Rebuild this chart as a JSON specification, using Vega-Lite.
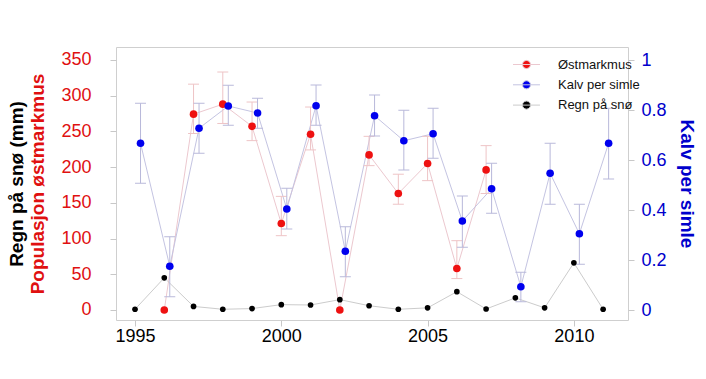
{
  "$schema": "https://vega.github.io/schema/vega-lite/v6.json",
  "width": 512,
  "height": 273,
  "autosize": {"type": "none"},
  "padding": {"left": 116, "top": 47, "right": 78, "bottom": 59},
  "background": "white",
  "config": {
    "font": "Liberation Sans",
    "view": {"stroke": "#cfcfcf"},
    "axis": {"grid": false, "domain": false, "tickColor": "#c8c8c8", "tickSize": 6, "labelFontSize": 18, "titleFontSize": 19, "titleFontWeight": "bold", "labelFont": "Liberation Sans", "titleFont": "Liberation Sans"}
  },
  "datasets": {
    "mus": [
      {"year": 1996, "series": "Østmarkmus", "value": 0, "lo": null, "hi": null},
      {"year": 1997, "series": "Østmarkmus", "value": 274, "lo": 247, "hi": 316},
      {"year": 1998, "series": "Østmarkmus", "value": 288, "lo": 261, "hi": 333},
      {"year": 1999, "series": "Østmarkmus", "value": 257, "lo": 237, "hi": 291},
      {"year": 2000, "series": "Østmarkmus", "value": 121, "lo": 104, "hi": 159},
      {"year": 2001, "series": "Østmarkmus", "value": 246, "lo": 224, "hi": 284},
      {"year": 2002, "series": "Østmarkmus", "value": 0, "lo": null, "hi": null},
      {"year": 2003, "series": "Østmarkmus", "value": 217, "lo": 202, "hi": 243},
      {"year": 2004, "series": "Østmarkmus", "value": 163, "lo": 148, "hi": 190},
      {"year": 2005, "series": "Østmarkmus", "value": 205, "lo": 181, "hi": 243},
      {"year": 2006, "series": "Østmarkmus", "value": 58, "lo": 44, "hi": 97},
      {"year": 2007, "series": "Østmarkmus", "value": 196, "lo": 163, "hi": 230}
    ],
    "kalv": [
      {"year": 1995, "series": "Kalv per simle", "value": 0.667, "lo": 0.507, "hi": 0.827},
      {"year": 1996, "series": "Kalv per simle", "value": 0.175, "lo": 0.053, "hi": 0.293},
      {"year": 1997, "series": "Kalv per simle", "value": 0.727, "lo": 0.627, "hi": 0.827},
      {"year": 1998, "series": "Kalv per simle", "value": 0.816, "lo": 0.739, "hi": 0.899},
      {"year": 1999, "series": "Kalv per simle", "value": 0.788, "lo": 0.727, "hi": 0.847},
      {"year": 2000, "series": "Kalv per simle", "value": 0.404, "lo": 0.324, "hi": 0.487},
      {"year": 2001, "series": "Kalv per simle", "value": 0.817, "lo": 0.739, "hi": 0.9},
      {"year": 2002, "series": "Kalv per simle", "value": 0.235, "lo": 0.133, "hi": 0.333},
      {"year": 2003, "series": "Kalv per simle", "value": 0.777, "lo": 0.696, "hi": 0.86},
      {"year": 2004, "series": "Kalv per simle", "value": 0.677, "lo": 0.56, "hi": 0.799},
      {"year": 2005, "series": "Kalv per simle", "value": 0.705, "lo": 0.607, "hi": 0.807},
      {"year": 2006, "series": "Kalv per simle", "value": 0.356, "lo": 0.251, "hi": 0.456},
      {"year": 2007, "series": "Kalv per simle", "value": 0.485, "lo": 0.387, "hi": 0.587},
      {"year": 2008, "series": "Kalv per simle", "value": 0.093, "lo": 0.033, "hi": 0.151},
      {"year": 2009, "series": "Kalv per simle", "value": 0.547, "lo": 0.423, "hi": 0.667},
      {"year": 2010, "series": "Kalv per simle", "value": 0.305, "lo": 0.183, "hi": 0.423},
      {"year": 2011, "series": "Kalv per simle", "value": 0.667, "lo": 0.524, "hi": 0.807}
    ],
    "regn": [
      {"year": 1995, "series": "Regn på snø", "value": 1},
      {"year": 1996, "series": "Regn på snø", "value": 45},
      {"year": 1997, "series": "Regn på snø", "value": 5},
      {"year": 1998, "series": "Regn på snø", "value": 1},
      {"year": 1999, "series": "Regn på snø", "value": 2},
      {"year": 2000, "series": "Regn på snø", "value": 7.5},
      {"year": 2001, "series": "Regn på snø", "value": 7},
      {"year": 2002, "series": "Regn på snø", "value": 14.5},
      {"year": 2003, "series": "Regn på snø", "value": 6},
      {"year": 2004, "series": "Regn på snø", "value": 1},
      {"year": 2005, "series": "Regn på snø", "value": 3},
      {"year": 2006, "series": "Regn på snø", "value": 25.6},
      {"year": 2007, "series": "Regn på snø", "value": 1.4},
      {"year": 2008, "series": "Regn på snø", "value": 17},
      {"year": 2009, "series": "Regn på snø", "value": 3},
      {"year": 2010, "series": "Regn på snø", "value": 66},
      {"year": 2011, "series": "Regn på snø", "value": 1}
    ]
  },
  "encoding": {
    "x": {"field": "year", "type": "quantitative", "scale": {"domain": [1994.35, 2011.85], "nice": false, "zero": false}, "axis": {"values": [1995, 2000, 2005, 2010], "format": "d", "title": null, "labelColor": "#000000", "labelPadding": 1}}
  },
  "layer": [
    {
      "data": {"name": "mus"},
      "mark": {"type": "line", "strokeWidth": 1},
      "encoding": {
        "y": {"field": "value", "type": "quantitative", "scale": {"domain": [-14, 368], "nice": false, "zero": false}, "axis": null},
        "stroke": {"field": "series", "type": "nominal", "scale": {"domain": ["Østmarkmus", "Kalv per simle", "Regn på snø"], "range": ["#ecc8cf", "#c4c4e2", "#cccccc"]}, "legend": {"title": null, "orient": "none", "legendX": 403, "legendY": 10, "symbolType": "M-2,0H2M-0.6,0A0.6,0.6,0,1,0,0.6,0A0.6,0.6,0,1,0,-0.6,0Z", "symbolSize": 182, "symbolStrokeWidth": 1, "labelFontSize": 13, "labelOffset": 24, "rowPadding": 5.3, "padding": 0, "labelColor": "#111111", "labelFont": "Liberation Sans"}}
      }
    },
    {
      "data": {"name": "regn"},
      "mark": {"type": "line", "strokeWidth": 1},
      "encoding": {
        "y": {"field": "value", "type": "quantitative", "scale": {"domain": [-14, 368], "nice": false, "zero": false}, "axis": {"orient": "left", "title": "Regn på snø (mm)", "labels": false, "ticks": false, "titlePadding": 90, "titleColor": "#000000"}},
        "stroke": {"field": "series", "type": "nominal", "scale": {"domain": ["Østmarkmus", "Kalv per simle", "Regn på snø"], "range": ["#ecc8cf", "#c4c4e2", "#cccccc"]}, "legend": {"title": null, "orient": "none", "legendX": 403, "legendY": 10, "symbolType": "M-2,0H2M-0.6,0A0.6,0.6,0,1,0,0.6,0A0.6,0.6,0,1,0,-0.6,0Z", "symbolSize": 182, "symbolStrokeWidth": 1, "labelFontSize": 13, "labelOffset": 24, "rowPadding": 5.3, "padding": 0, "labelColor": "#111111", "labelFont": "Liberation Sans"}}
      }
    },
    {
      "data": {"name": "kalv"},
      "mark": {"type": "line", "strokeWidth": 1, "xOffset": 5.5},
      "encoding": {
        "y": {"field": "value", "type": "quantitative", "scale": {"domain": [-0.04, 1.052], "nice": false, "zero": false}, "axis": null},
        "stroke": {"field": "series", "type": "nominal", "scale": {"domain": ["Østmarkmus", "Kalv per simle", "Regn på snø"], "range": ["#ecc8cf", "#c4c4e2", "#cccccc"]}, "legend": {"title": null, "orient": "none", "legendX": 403, "legendY": 10, "symbolType": "M-2,0H2M-0.6,0A0.6,0.6,0,1,0,0.6,0A0.6,0.6,0,1,0,-0.6,0Z", "symbolSize": 182, "symbolStrokeWidth": 1, "labelFontSize": 13, "labelOffset": 24, "rowPadding": 5.3, "padding": 0, "labelColor": "#111111", "labelFont": "Liberation Sans"}}
      }
    },
    {
      "data": {"name": "mus"},
      "transform": [{"filter": "datum.lo != null"}],
      "mark": {"type": "rule", "color": "#eec4c6", "strokeWidth": 1},
      "encoding": {
        "y": {"field": "lo", "type": "quantitative", "scale": {"domain": [-14, 368], "nice": false, "zero": false}, "axis": null},
        "y2": {"field": "hi"}
      }
    },
    {
      "data": {"name": "mus"},
      "transform": [{"filter": "datum.lo != null"}],
      "mark": {"type": "tick", "orient": "horizontal", "color": "#eec4c6", "size": 11, "thickness": 1, "opacity": 1},
      "encoding": {
        "y": {"field": "hi", "type": "quantitative", "scale": {"domain": [-14, 368], "nice": false, "zero": false}, "axis": null}
      }
    },
    {
      "data": {"name": "mus"},
      "transform": [{"filter": "datum.lo != null"}],
      "mark": {"type": "tick", "orient": "horizontal", "color": "#eec4c6", "size": 11, "thickness": 1, "opacity": 1},
      "encoding": {
        "y": {"field": "lo", "type": "quantitative", "scale": {"domain": [-14, 368], "nice": false, "zero": false}, "axis": null}
      }
    },
    {
      "data": {"name": "kalv"},
      "mark": {"type": "rule", "color": "#b8b8da", "strokeWidth": 1, "xOffset": 5.5},
      "encoding": {
        "y": {"field": "lo", "type": "quantitative", "scale": {"domain": [-0.04, 1.052], "nice": false, "zero": false}, "axis": null},
        "y2": {"field": "hi"}
      }
    },
    {
      "data": {"name": "kalv"},
      "mark": {"type": "tick", "orient": "horizontal", "color": "#b8b8da", "size": 11, "thickness": 1, "opacity": 1, "xOffset": 5.5},
      "encoding": {
        "y": {"field": "hi", "type": "quantitative", "scale": {"domain": [-0.04, 1.052], "nice": false, "zero": false}, "axis": null}
      }
    },
    {
      "data": {"name": "kalv"},
      "mark": {"type": "tick", "orient": "horizontal", "color": "#b8b8da", "size": 11, "thickness": 1, "opacity": 1, "xOffset": 5.5},
      "encoding": {
        "y": {"field": "lo", "type": "quantitative", "scale": {"domain": [-0.04, 1.052], "nice": false, "zero": false}, "axis": null}
      }
    },
    {
      "data": {"name": "mus"},
      "mark": {"type": "point", "filled": true, "opacity": 1, "size": 58, "shape": "circle"},
      "encoding": {
        "y": {"field": "value", "type": "quantitative", "scale": {"domain": [-14, 368], "nice": false, "zero": false}, "axis": {"orient": "left", "values": [0, 50, 100, 150, 200, 250, 300, 350], "labelColor": "#e01010", "titleColor": "#e01010", "title": "Populasjon østmarkmus", "labelPadding": 19, "titlePadding": 13}},
        "fill": {"field": "series", "type": "nominal", "scale": {"domain": ["Østmarkmus", "Kalv per simle", "Regn på snø"], "range": ["#ee1111", "#0000ee", "#000000"]}, "legend": {"title": null, "orient": "none", "legendX": 403, "legendY": 10, "symbolType": "M-2,0H2M-0.6,0A0.6,0.6,0,1,0,0.6,0A0.6,0.6,0,1,0,-0.6,0Z", "symbolSize": 182, "symbolStrokeWidth": 1, "labelFontSize": 13, "labelOffset": 24, "rowPadding": 5.3, "padding": 0, "labelColor": "#111111", "labelFont": "Liberation Sans"}}
      }
    },
    {
      "data": {"name": "kalv"},
      "mark": {"type": "point", "filled": true, "opacity": 1, "size": 58, "shape": "circle", "xOffset": 5.5},
      "encoding": {
        "y": {"field": "value", "type": "quantitative", "scale": {"domain": [-0.04, 1.052], "nice": false, "zero": false}, "axis": {"orient": "right", "values": [0, 0.2, 0.4, 0.6, 0.8, 1], "format": "~g", "labelColor": "#0000cc", "titleColor": "#0000cc", "title": "Kalv per simle", "labelPadding": 7, "titlePadding": 10}},
        "fill": {"field": "series", "type": "nominal", "scale": {"domain": ["Østmarkmus", "Kalv per simle", "Regn på snø"], "range": ["#ee1111", "#0000ee", "#000000"]}, "legend": {"title": null, "orient": "none", "legendX": 403, "legendY": 10, "symbolType": "M-2,0H2M-0.6,0A0.6,0.6,0,1,0,0.6,0A0.6,0.6,0,1,0,-0.6,0Z", "symbolSize": 182, "symbolStrokeWidth": 1, "labelFontSize": 13, "labelOffset": 24, "rowPadding": 5.3, "padding": 0, "labelColor": "#111111", "labelFont": "Liberation Sans"}}
      }
    },
    {
      "data": {"name": "regn"},
      "mark": {"type": "point", "filled": true, "opacity": 1, "size": 32, "shape": "circle"},
      "encoding": {
        "y": {"field": "value", "type": "quantitative", "scale": {"domain": [-14, 368], "nice": false, "zero": false}, "axis": null},
        "fill": {"field": "series", "type": "nominal", "scale": {"domain": ["Østmarkmus", "Kalv per simle", "Regn på snø"], "range": ["#ee1111", "#0000ee", "#000000"]}, "legend": {"title": null, "orient": "none", "legendX": 403, "legendY": 10, "symbolType": "M-2,0H2M-0.6,0A0.6,0.6,0,1,0,0.6,0A0.6,0.6,0,1,0,-0.6,0Z", "symbolSize": 182, "symbolStrokeWidth": 1, "labelFontSize": 13, "labelOffset": 24, "rowPadding": 5.3, "padding": 0, "labelColor": "#111111", "labelFont": "Liberation Sans"}}
      }
    }
  ],
  "resolve": {"scale": {"y": "independent"}}
}
